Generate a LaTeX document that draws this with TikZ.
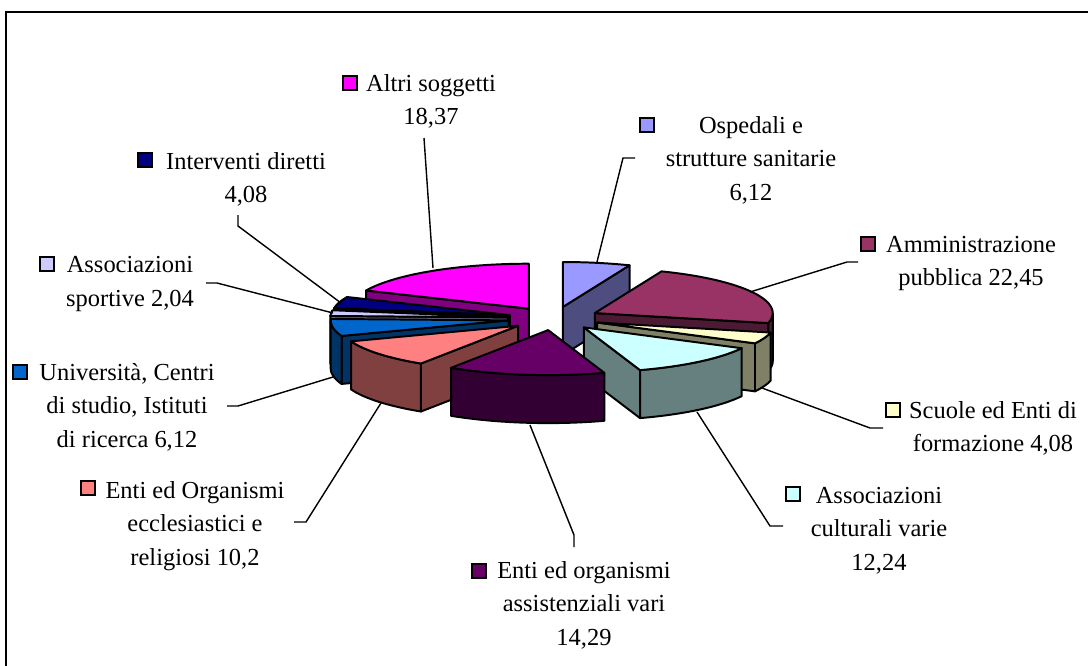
\documentclass[tikz,border=0pt]{standalone}
\usepackage{fontspec}
\setmainfont{Liberation Serif}
\usetikzlibrary{calc}

\definecolor{ospTop}{HTML}{9999FF} \definecolor{ospSide}{HTML}{4D4D80}
\definecolor{ammTop}{HTML}{993366} \definecolor{ammSide}{HTML}{4D1A33}
\definecolor{scuTop}{HTML}{FFFFCC} \definecolor{scuSide}{HTML}{808066}
\definecolor{culTop}{HTML}{CCFFFF} \definecolor{culSide}{HTML}{668080}
\definecolor{assTop}{HTML}{660066} \definecolor{assSide}{HTML}{330033}
\definecolor{eccTop}{HTML}{FF8080} \definecolor{eccSide}{HTML}{804040}
\definecolor{uniTop}{HTML}{0066CC} \definecolor{uniSide}{HTML}{003366}
\definecolor{spoTop}{HTML}{CCCCFF} \definecolor{spoSide}{HTML}{666680}
\definecolor{intTop}{HTML}{000080} \definecolor{intSide}{HTML}{000040}
\definecolor{altTop}{HTML}{FF00FF} \definecolor{altSide}{HTML}{800080}

% one exploded slice: start angle, end angle (clockwise from top), top colour, side colour
\newcommand\pieslice[4]{%
  \pgfmathsetmacro\midang{(#1+#2)/2}%
  \coordinate (tip) at ($(pc)+({46*sin(\midang)},{-11.7*cos(\midang)})$);%
  \pgfmathtruncatemacro\showa{sin(#1)<-0.01}%
  \pgfmathtruncatemacro\showb{sin(#2)>0.01}%
  \pgfmathsetmacro\sidea{max(#1,90)}%
  \pgfmathsetmacro\sideb{min(#2,270)}%
  \pgfmathtruncatemacro\showside{\sidea<\sideb}%
  \ifnum\showa=1
    \filldraw[face,fill=#4] (tip) -- ($(tip)+({#1-90}:178 and 45)$) -- ++(0,48) -- ($(tip)+(0,48)$) -- cycle;
  \fi
  \ifnum\showb=1
    \filldraw[face,fill=#4] (tip) -- ($(tip)+({#2-90}:178 and 45)$) -- ++(0,48) -- ($(tip)+(0,48)$) -- cycle;
  \fi
  \ifnum\showside=1
    \filldraw[face,fill=#4] ($(tip)+({\sidea-90}:178 and 45)$)
      arc[start angle=\sidea-90, end angle=\sideb-90, x radius=178, y radius=45]
      -- ++(0,48)
      arc[start angle=\sideb-90, end angle=\sidea-90, x radius=178, y radius=45] -- cycle;
  \fi
  \filldraw[face,fill=#3] (tip) -- ($(tip)+({#1-90}:178 and 45)$)
    arc[start angle=#1-90, end angle=#2-90, x radius=178, y radius=45] -- cycle;
}

\begin{document}
\begin{tikzpicture}[x=0.25mm, y=-0.25mm,
    face/.style = {draw=black, line width=1.4pt, line join=round},
    leader/.style = {draw=black, line width=1pt},
    key/.style = {draw=black, line width=1.1pt, minimum size=3.4mm, inner sep=0pt},
    lbl/.style = {align=center, inner sep=0pt, anchor=base, font=\fontsize{17.4}{23.8}\selectfont}]
  \useasboundingbox (0,0) rectangle (1088,666);
  \draw[line width=1.4pt] (6,666) -- (6,12) -- (1088,12);

  \coordinate (pc) at (554,318.5);
  \pieslice{0}{22.03}{ospTop}{ospSide}
  \pieslice{293.83}{360}{altTop}{altSide}
  \pieslice{22.03}{102.85}{ammTop}{ammSide}
  \pieslice{279.14}{293.83}{intTop}{intSide}
  \pieslice{271.8}{279.14}{spoTop}{spoSide}
  \pieslice{249.77}{271.8}{uniTop}{uniSide}
  \pieslice{102.85}{117.54}{scuTop}{scuSide}
  \pieslice{213.05}{249.77}{eccTop}{eccSide}
  \pieslice{117.54}{161.6}{culTop}{culSide}
  \pieslice{161.6}{213.05}{assTop}{assSide}

  % labels (anchored at the baseline of the last line)
  \node[key, fill=altTop] (altri-key) at (350,83) {};
  \node[lbl] (altri) at (431,124.5) {Altri soggetti\\18,37};
  \node[key, fill=ospTop] (osp-key) at (647,125) {};
  \node[lbl] (osp) at (751,200) {Ospedali e\\strutture sanitarie\\6,12};
  \node[key, fill=ammTop] (amm-key) at (868,244) {};
  \node[lbl] (amm) at (971,285.5) {Amministrazione\\pubblica 22,45};
  \node[key, fill=scuTop] (scu-key) at (893,410) {};
  \node[lbl] (scu) at (993,451.5) {Scuole ed Enti di\\formazione 4,08};
  \node[key, fill=culTop] (cul-key) at (793,494) {};
  \node[lbl] (cul) at (879,570) {Associazioni\\culturali varie\\12,24};
  \node[key, fill=assTop] (ass-key) at (479,571) {};
  \node[lbl] (ass) at (584,645) {Enti ed organismi\\assistenziali vari\\14,29};
  \node[key, fill=eccTop] (ecc-key) at (88,488) {};
  \node[lbl] (ecc) at (195,565) {Enti ed Organismi\\ecclesiastici e\\religiosi 10,2};
  \node[key, fill=uniTop] (uni-key) at (20,372) {};
  \node[lbl] (uni) at (127,447) {Università, Centri\\di studio, Istituti\\di ricerca 6,12};
  \node[key, fill=spoTop] (spo-key) at (47,264) {};
  \node[lbl] (spo) at (130,306) {Associazioni\\sportive 2,04};
  \node[key, fill=intTop] (int-key) at (145,160) {};
  \node[lbl] (int) at (246,202.5) {Interventi diretti\\4,08};

  % leader lines
  \coordinate (altri-a) at (424,138); \coordinate (altri-b) at (433,268);
  \coordinate (osp-a) at (635,158);   \coordinate (osp-b) at (597,262);
  \coordinate (amm-a) at (858,262);   \coordinate (amm-b) at (750,292);
  \coordinate (scu-a) at (883,428);   \coordinate (scu-b) at (762,388);
  \coordinate (cul-a) at (783,526);   \coordinate (cul-b) at (697,412);
  \coordinate (ass-a) at (574,547);   \coordinate (ass-b) at (530,425);
  \coordinate (ecc-a) at (294,522);   \coordinate (ecc-b) at (381,403);
  \coordinate (uni-a) at (227,406);   \coordinate (uni-b) at (333,377);
  \coordinate (spo-a) at (206,283);   \coordinate (spo-b) at (333,313);
  \coordinate (int-a) at (238,215);   \coordinate (int-b) at (341,303);
  \draw[leader] (altri-a) -- (altri-b);
  \draw[leader] (osp-a) -- ++(-12,0) -- (osp-b);
  \draw[leader] (amm-a) -- ++(-11,0) -- (amm-b);
  \draw[leader] (scu-a) -- ++(-13,0) -- (scu-b);
  \draw[leader] (cul-a) -- ++(-13,0) -- (cul-b);
  \draw[leader] (ass-a) -- ++(0,-12) -- (ass-b);
  \draw[leader] (ecc-a) -- ++(12,0) -- (ecc-b);
  \draw[leader] (uni-a) -- ++(11,0) -- (uni-b);
  \draw[leader] (spo-a) -- ++(11,0) -- (spo-b);
  \draw[leader] (int-a) -- ++(0,11) -- (int-b);
\end{tikzpicture}
\end{document}
